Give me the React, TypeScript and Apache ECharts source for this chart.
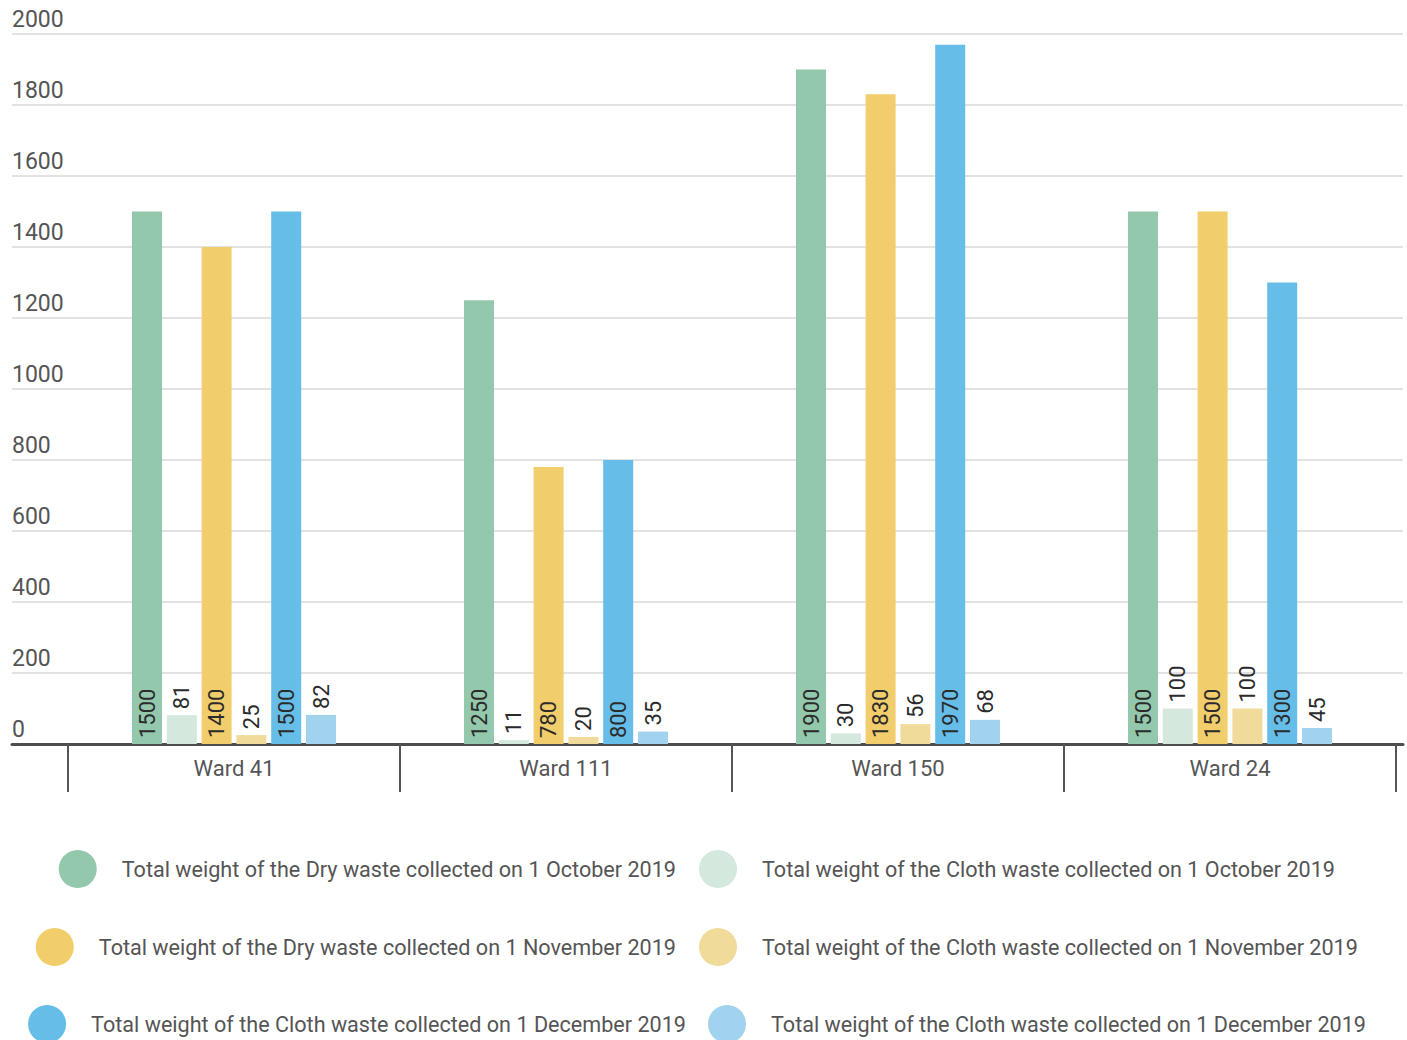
import React, { useEffect, useRef } from "react";
import * as echarts from "echarts";

const categories = ["Ward 41", "Ward 111", "Ward 150", "Ward 24"];
const seriesNames = [
  "Total weight of the Dry waste collected on 1 October 2019",
  "Total weight of the Cloth waste collected on 1 October 2019",
  "Total weight of the Dry waste collected on 1 November 2019",
  "Total weight of the Cloth waste collected on 1 November 2019",
  "Total weight of the Cloth waste collected on 1 December 2019",
  "Total weight of the Cloth waste collected on 1 December 2019",
];
const dryOct = [1500, 1250, 1900, 1500];
const clothOct = [81, 11, 30, 100];
const dryNov = [1400, 780, 1830, 1500];
const clothNov = [25, 20, 56, 100];
const clothDecA = [1500, 800, 1970, 1300];
const clothDecB = [82, 35, 68, 45];
const seriesValues = [dryOct, clothOct, dryNov, clothNov, clothDecA, clothDecB];
const colors = ["#94c8ac", "#d5e8dd", "#f2cd6b", "#f1db9a", "#66bde8", "#a2d3ee"];
const bigSeries = [true, false, true, false, true, false];
const yTicks = { min: 0, max: 2000, interval: 200 };

const FONT = "Roboto";

export default function App() {
  const ref = useRef<HTMLDivElement>(null);
  useEffect(() => {
    if (!ref.current) return;
    const chart = echarts.init(ref.current, undefined, { renderer: "svg" });

    const legendPos: any[] = [
      { right: 731, top: 850 },
      { left: 699, top: 850 },
      { right: 731, top: 928 },
      { left: 699, top: 928 },
      { right: 721, top: 1005 },
      { left: 708, top: 1005 },
    ];
    const legends = seriesNames.map((n, i) => ({
      ...legendPos[i],
      padding: 0,
      orient: "horizontal",
      icon: "circle",
      itemWidth: 38,
      itemHeight: 38,
      selectedMode: false,
      textStyle: { fontFamily: FONT, fontSize: 21.6, color: "#555", padding: [0, 0, 0, 20] },
      data: [{ name: n, itemStyle: { color: colors[i] } }],
    }));

    chart.setOption({
      animation: false,
      textStyle: { fontFamily: FONT },
      grid: [
        { left: 12, right: 4, top: 34, bottom: 296, containLabel: false },
        { left: 68, right: 11, top: 34, bottom: 296, containLabel: false },
      ],
      legend: legends,
      xAxis: [
        {
          type: "value",
          gridIndex: 0,
          min: 0,
          max: 1,
          axisLabel: { show: false },
          splitLine: { show: false },
          axisTick: { show: false },
          axisLine: { show: true, lineStyle: { color: "#4d4d4d", width: 3 } },
        },
        {
          type: "category",
          gridIndex: 1,
          data: categories,
          axisLine: { show: false },
          axisTick: {
            show: true,
            interval: 0,
            length: 48,
            lineStyle: { color: "#555", width: 2 },
          },
          axisLabel: {
            fontFamily: FONT,
            fontSize: 22,
            color: "#555",
            margin: 13,
          },
        },
      ],
      yAxis: [
        {
          type: "value",
          gridIndex: 0,
          ...yTicks,
          axisLine: { show: false },
          axisTick: { show: false },
          axisLabel: {
            inside: true,
            margin: 0,
            verticalAlign: "bottom",
            padding: [0, 0, 3, 0],
            fontFamily: FONT,
            fontSize: 23,
            color: "#555",
            formatter: (v: number) => String(v),
          },
          splitLine: { show: true, lineStyle: { color: "#e2e2e2", width: 2 } },
        },
        {
          type: "value",
          gridIndex: 1,
          ...yTicks,
          axisLine: { show: false },
          axisTick: { show: false },
          axisLabel: { show: false },
          splitLine: { show: false },
        },
      ],
      series: seriesValues.map((vals, i) => ({
        type: "bar",
        name: seriesNames[i],
        xAxisIndex: 1,
        yAxisIndex: 1,
        data: vals,
        barWidth: 30,
        barGap: "16%",
        itemStyle: { color: colors[i] },
        label: {
          show: true,
          position: bigSeries[i] ? "insideBottom" : "top",
          rotate: 90,
          align: "left",
          verticalAlign: "middle",
          distance: 6,
          fontFamily: FONT,
          fontSize: 22,
          color: "#2b2b2b",
        },
      })),
    });
    return () => chart.dispose();
  }, []);
  return <div ref={ref} style={{ width: 1407, height: 1040, position: "absolute", left: 0, top: 0 }} />;
}
